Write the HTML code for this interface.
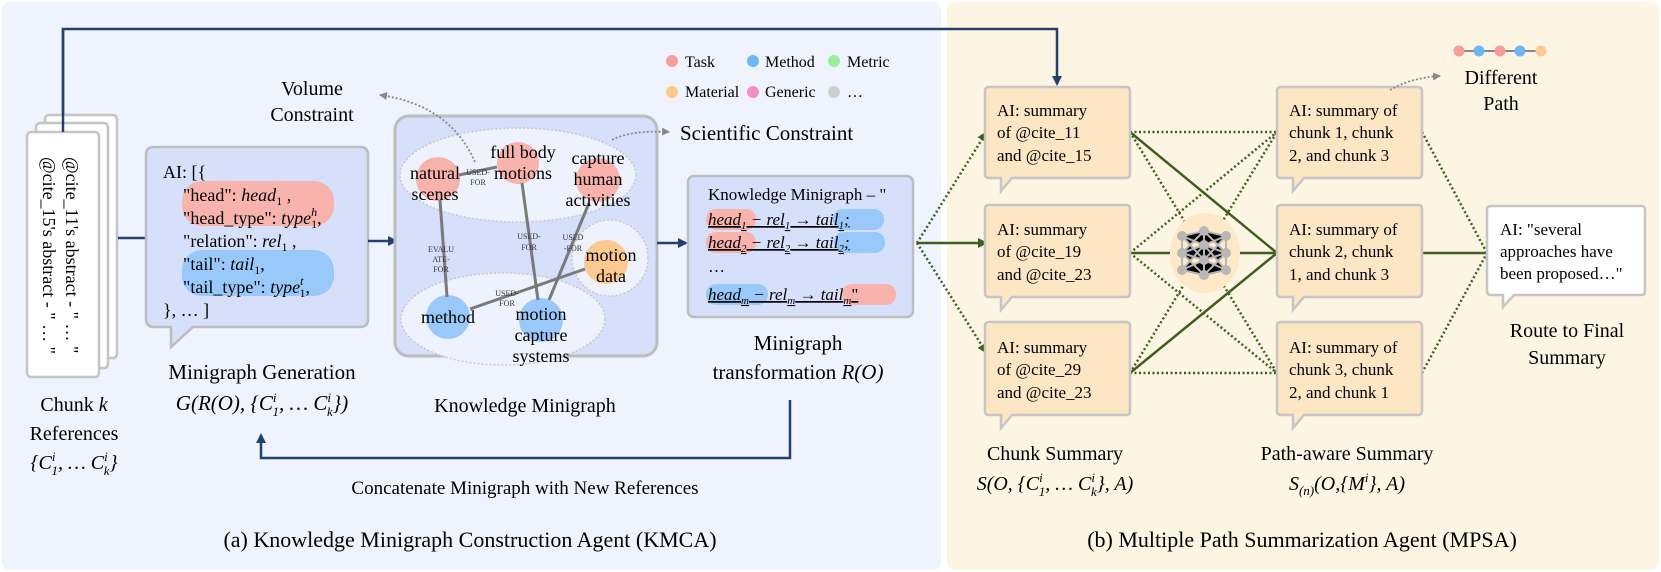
<!DOCTYPE html>
<html><head><meta charset="utf-8"><style>
html,body{margin:0;padding:0;background:#fff;font-family:"Liberation Serif","Times New Roman",serif;}
svg{display:block;}
svg text, svg tspan{font-family:"Liberation Serif","Times New Roman",serif;}
.m{font-style:italic;}
</style></head><body>
<svg width="1661" height="572" viewBox="0 0 1661 572" xmlns="http://www.w3.org/2000/svg" font-family="Liberation Serif, Times New Roman, serif">
<defs>
<marker id="ab" markerWidth="10" markerHeight="10" refX="8" refY="5" orient="auto" markerUnits="userSpaceOnUse"><path d="M0,0 L10,5 L0,10 z" fill="#23406e"/></marker>
<marker id="ag" markerWidth="10" markerHeight="10" refX="8" refY="5" orient="auto" markerUnits="userSpaceOnUse"><path d="M0,0 L10,5 L0,10 z" fill="#3d5e1f"/></marker>
<marker id="ay" markerWidth="8" markerHeight="8" refX="7" refY="4" orient="auto" markerUnits="userSpaceOnUse"><path d="M0,0 L8,4 L0,8 z" fill="#888"/></marker>
</defs>
<rect x="2" y="2" width="939" height="568" rx="8" fill="#eef3fd"/>
<rect x="947" y="2" width="712" height="568" rx="8" fill="#fdf5e4"/>

<polyline points="63,132 63,29 1057,29 1057,84" fill="none" stroke="#23406e" stroke-width="2.5" marker-end="url(#ab)"/>

<rect x="45" y="115" width="72" height="243" rx="4" fill="#fff" stroke="#c4c4c4" stroke-width="2.5"/>
<rect x="36" y="123" width="72" height="245" rx="4" fill="#fff" stroke="#c4c4c4" stroke-width="2.5"/>
<rect x="27" y="132" width="72" height="245" rx="4" fill="#fff" stroke="#c4c4c4" stroke-width="2.5"/>
<line x1="63" y1="29" x2="63" y2="132" stroke="#23406e" stroke-width="2.5"/>
<text transform="translate(66,157) rotate(90)" font-size="18">@cite_11's abstract - " … "</text>
<text transform="translate(43,157) rotate(90)" font-size="18">@cite_15's abstract - " … "</text>
<text x="74" y="411" font-size="20" text-anchor="middle">Chunk <tspan class="m">k</tspan></text>
<text x="74" y="440" font-size="20" text-anchor="middle">References</text>
<text x="74" y="469" font-size="20" text-anchor="middle" class="m">{C<tspan font-size="13" dy="-8">i</tspan><tspan font-size="13" dx="-4" dy="14">1</tspan><tspan dy="-6">, … C</tspan><tspan font-size="13" dy="-8">i</tspan><tspan font-size="13" dx="-4" dy="14">k</tspan><tspan dy="-6">}</tspan></text>

<line x1="118" y1="238" x2="146" y2="238" stroke="#23406e" stroke-width="2.5"/>

<path d="M154,147 H360 Q368,147 368,155 V319 Q368,327 360,327 H193 L171,347 L171,327 H154 Q146,327 146,319 V155 Q146,147 154,147 Z" fill="#d6e0fb" stroke="#bdbdbd" stroke-width="2.5"/>
<rect x="182" y="181" width="152" height="45" rx="20" fill="#f9b3ad"/>
<rect x="182" y="250" width="152" height="46" rx="20" fill="#99c9fb"/>
<g font-size="18">
<text x="163" y="178">AI: [{</text>
<text x="183" y="201">"head": <tspan class="m">head</tspan><tspan font-size="12" dy="4">1</tspan><tspan dy="-4"> ,</tspan></text>
<text x="183" y="224">"head_type": <tspan class="m">type</tspan><tspan font-size="12" class="m" dy="-8">h</tspan><tspan font-size="12" dx="-6" dy="12">1</tspan><tspan dy="-4">,</tspan></text>
<text x="183" y="247">"relation": <tspan class="m">rel</tspan><tspan font-size="12" dy="4">1</tspan><tspan dy="-4"> ,</tspan></text>
<text x="183" y="270">"tail": <tspan class="m">tail</tspan><tspan font-size="12" dy="4">1</tspan><tspan dy="-4">,</tspan></text>
<text x="183" y="293">"tail_type": <tspan class="m">type</tspan><tspan font-size="12" class="m" dy="-8">t</tspan><tspan font-size="12" dx="-4" dy="12">1</tspan><tspan dy="-4">,</tspan></text>
<text x="163" y="316">}, … ]</text>
</g>
<text x="262" y="379" font-size="21" text-anchor="middle">Minigraph Generation</text>
<text x="262" y="410" font-size="21" text-anchor="middle" class="m">G(R(O), {C<tspan font-size="13" dy="-8">i</tspan><tspan font-size="13" dx="-4" dy="14">1</tspan><tspan dy="-6">, … C</tspan><tspan font-size="13" dy="-8">i</tspan><tspan font-size="13" dx="-4" dy="14">k</tspan><tspan dy="-6">})</tspan></text>

<line x1="368" y1="241" x2="396" y2="241" stroke="#23406e" stroke-width="2.5" marker-end="url(#ab)"/>

<text x="312" y="95" font-size="20" text-anchor="middle">Volume</text>
<text x="312" y="121" font-size="20" text-anchor="middle">Constraint</text>

<g font-size="16">
<circle cx="672" cy="61" r="6" fill="#f99d9a"/><text x="685" y="67">Task</text>
<circle cx="753" cy="61" r="6" fill="#6fb4f7"/><text x="765" y="67">Method</text>
<circle cx="834" cy="61" r="6" fill="#98f09a"/><text x="847" y="67">Metric</text>
<circle cx="672" cy="92" r="6" fill="#fcc98e"/><text x="685" y="97">Material</text>
<circle cx="753" cy="92" r="6" fill="#f78fc7"/><text x="765" y="97">Generic</text>
<circle cx="834" cy="92" r="6" fill="#cfcfcf"/><text x="847" y="97">…</text>
</g>

<rect x="395" y="116" width="262" height="240" rx="14" fill="#d6e0fb" stroke="#bdbdbd" stroke-width="3"/>
<ellipse cx="518" cy="175" rx="118" ry="47" fill="#eef2fc" stroke="#c8c8c8" stroke-width="1.5" stroke-dasharray="2 2"/>
<ellipse cx="503" cy="319" rx="102" ry="46" fill="#eef2fc" stroke="#c8c8c8" stroke-width="1.5" stroke-dasharray="2 2"/>
<circle cx="610" cy="258" r="38" fill="#eef2fc" stroke="#c8c8c8" stroke-width="1.5" stroke-dasharray="2 2"/>
<circle cx="438" cy="179" r="22" fill="#f9b3ad"/>
<circle cx="518" cy="163" r="21" fill="#f9b3ad"/>
<circle cx="598" cy="180" r="22" fill="#f9b3ad"/>
<circle cx="606" cy="262" r="22" fill="#fcc98e"/>
<circle cx="448" cy="317" r="22" fill="#99c9fb"/>
<circle cx="541" cy="320" r="22" fill="#99c9fb"/>
<g stroke="#7a7a7a" stroke-width="3">
<line x1="459" y1="175" x2="497" y2="167"/>
<line x1="440" y1="200" x2="447" y2="297"/>
<line x1="522" y1="183" x2="538" y2="300"/>
<line x1="589" y1="203" x2="549" y2="300"/>
<line x1="585" y1="269" x2="470" y2="309"/>
</g>
<g font-size="8" text-anchor="middle" fill="#333">
<text x="478" y="175">USED-</text><text x="478" y="185">FOR</text>
<text x="441" y="252">EVALU</text><text x="441" y="262">ATE-</text><text x="441" y="272">FOR</text>
<text x="529" y="239">USED-</text><text x="529" y="250">FOR</text>
<text x="573" y="240">USED</text><text x="573" y="251">-FOR</text>
<text x="507" y="296">USED-</text><text x="507" y="306">FOR</text>
</g>
<g font-size="18" text-anchor="middle">
<text x="435" y="179">natural</text><text x="435" y="200">scenes</text>
<text x="523" y="158">full body</text><text x="523" y="179">motions</text>
<text x="598" y="164">capture</text><text x="598" y="185">human</text><text x="598" y="206">activities</text>
<text x="611" y="261">motion</text><text x="611" y="282">data</text>
<text x="448" y="323">method</text>
<text x="541" y="320">motion</text><text x="541" y="341">capture</text><text x="541" y="362">systems</text>
</g>
<path d="M475,162 Q450,105 380,95" fill="none" stroke="#888" stroke-width="1.8" stroke-dasharray="2 2" marker-end="url(#ay)"/>
<path d="M612,140 Q630,130 669,132" fill="none" stroke="#888" stroke-width="1.8" stroke-dasharray="2 2" marker-end="url(#ay)"/>
<text x="680" y="140" font-size="21">Scientific Constraint</text>
<text x="525" y="412" font-size="20" text-anchor="middle">Knowledge Minigraph</text>

<line x1="657" y1="243" x2="686" y2="243" stroke="#23406e" stroke-width="2.5" marker-end="url(#ab)"/>

<rect x="688" y="176" width="225" height="141" rx="6" fill="#d6e0fb" stroke="#bdbdbd" stroke-width="2.5"/>
<rect x="706" y="209" width="50" height="21" rx="10" fill="#f9b3ad"/>
<rect x="833" y="209" width="51" height="21" rx="10" fill="#99c9fb"/>
<rect x="706" y="232" width="50" height="21" rx="10" fill="#f9b3ad"/>
<rect x="834" y="232" width="51" height="21" rx="10" fill="#99c9fb"/>
<rect x="706" y="284" width="62" height="21" rx="10" fill="#99c9fb"/>
<rect x="842" y="284" width="54" height="21" rx="10" fill="#f9b3ad"/>
<g font-size="17">
<text x="708" y="200">Knowledge Minigraph – "</text>
<text x="708" y="225" class="m" text-decoration="underline">head<tspan font-size="11" dy="4">1</tspan><tspan dy="-4"> − rel</tspan><tspan font-size="11" dy="4">1</tspan><tspan dy="-4"> → tail</tspan><tspan font-size="11" dy="4">1</tspan><tspan dy="-4">;</tspan></text>
<text x="708" y="248" class="m" text-decoration="underline">head<tspan font-size="11" dy="4">2</tspan><tspan dy="-4"> − rel</tspan><tspan font-size="11" dy="4">2</tspan><tspan dy="-4"> → tail</tspan><tspan font-size="11" dy="4">2</tspan><tspan dy="-4">;</tspan></text>
<text x="708" y="272">…</text>
<text x="708" y="300" class="m" text-decoration="underline">head<tspan font-size="11" dy="4">m</tspan><tspan dy="-4"> − rel</tspan><tspan font-size="11" dy="4">m</tspan><tspan dy="-4"> → tail</tspan><tspan font-size="11" dy="4">m</tspan><tspan dy="-4" font-style="normal">"</tspan></text>
</g>
<text x="798" y="350" font-size="21" text-anchor="middle">Minigraph</text>
<text x="798" y="379" font-size="21" text-anchor="middle">transformation <tspan class="m">R(O)</tspan></text>

<polyline points="790,400 790,458 261,458 261,435" fill="none" stroke="#23406e" stroke-width="2.5" marker-end="url(#ab)"/>
<text x="525" y="494" font-size="19" text-anchor="middle">Concatenate Minigraph with New References</text>
<text x="470" y="547" font-size="22" text-anchor="middle">(a) Knowledge Minigraph Construction Agent (KMCA)</text>

<line x1="917" y1="243" x2="986" y2="133" stroke="#3d5e1f" stroke-width="2.5" stroke-dasharray="2 2.5" marker-end="url(#ag)"/>
<line x1="917" y1="243" x2="986" y2="243" stroke="#3d5e1f" stroke-width="2.5" marker-end="url(#ag)"/>
<line x1="917" y1="243" x2="986" y2="352" stroke="#3d5e1f" stroke-width="2.5" stroke-dasharray="2 2.5" marker-end="url(#ag)"/>

<g stroke="#3d5e1f" stroke-width="2.5" stroke-dasharray="2 2.5" fill="none">
<line x1="1130" y1="132" x2="1277" y2="132"/>
<line x1="1130" y1="132" x2="1277" y2="373"/>
<line x1="1130" y1="253" x2="1277" y2="132"/>
<line x1="1130" y1="253" x2="1277" y2="373"/>
<line x1="1130" y1="373" x2="1277" y2="132"/>
<line x1="1130" y1="373" x2="1277" y2="373"/>
<line x1="1422" y1="132" x2="1487" y2="253"/>
<line x1="1422" y1="373" x2="1487" y2="253"/>
</g>
<g stroke="#3d5e1f" stroke-width="2.5" fill="none">
<line x1="1130" y1="132" x2="1277" y2="253"/>
<line x1="1130" y1="373" x2="1277" y2="253"/>
<line x1="1130" y1="253" x2="1277" y2="253"/>
<line x1="1422" y1="253" x2="1487" y2="253"/>
</g>
<ellipse cx="1205" cy="253" rx="35" ry="40" fill="#fde8c8"/>
<g stroke="#b8b8b8" stroke-width="2">
<path d="M1182,236 L1204,231 L1226,236 M1182,236 L1204,245 L1226,236 M1182,236 L1204,260 L1226,236 M1182,253 L1204,231 L1226,253 M1182,253 L1204,245 L1226,253 M1182,253 L1204,260 L1226,253 M1182,253 L1204,275 L1226,253 M1182,270 L1204,260 L1226,270 M1182,270 L1204,275 L1226,270 M1182,270 L1204,245 L1226,270 M1182,236 L1182,270 M1226,236 L1226,270 M1204,231 L1204,275"/>
</g>
<g fill="#b8b8b8">
<circle cx="1182" cy="236" r="5"/><circle cx="1182" cy="253" r="5"/><circle cx="1182" cy="270" r="5"/>
<circle cx="1204" cy="231" r="5"/><circle cx="1204" cy="245" r="5"/><circle cx="1204" cy="260" r="5"/><circle cx="1204" cy="275" r="5"/>
<circle cx="1226" cy="236" r="5"/><circle cx="1226" cy="253" r="5"/><circle cx="1226" cy="270" r="5"/>
</g>

<g fill="#fde6c4" stroke="#c6c6c6" stroke-width="2.5">
<path d="M989,87 H1126 Q1130,87 1130,91 V174 Q1130,178 1126,178 H1012 L1001,191 L1001,178 H989 Q985,178 985,174 V91 Q985,87 989,87 Z"/>
<path d="M989,205 H1126 Q1130,205 1130,209 V293 Q1130,297 1126,297 H1012 L1001,310 L1001,297 H989 Q985,297 985,293 V209 Q985,205 989,205 Z"/>
<path d="M989,322 H1126 Q1130,322 1130,326 V411 Q1130,415 1126,415 H1012 L1001,428 L1001,415 H989 Q985,415 985,411 V326 Q985,322 989,322 Z"/>
<path d="M1281,87 H1418 Q1422,87 1422,91 V174 Q1422,178 1418,178 H1304 L1293,191 L1293,178 H1281 Q1277,178 1277,174 V91 Q1277,87 1281,87 Z"/>
<path d="M1281,205 H1418 Q1422,205 1422,209 V293 Q1422,297 1418,297 H1304 L1293,310 L1293,297 H1281 Q1277,297 1277,293 V209 Q1277,205 1281,205 Z"/>
<path d="M1281,322 H1418 Q1422,322 1422,326 V411 Q1422,415 1418,415 H1304 L1293,428 L1293,415 H1281 Q1277,415 1277,411 V326 Q1277,322 1281,322 Z"/>
</g>
<path d="M1491,206 H1641 Q1645,206 1645,210 V291 Q1645,295 1641,295 H1514 L1503,307 L1503,295 H1491 Q1487,295 1487,291 V210 Q1487,206 1491,206 Z" fill="#fff" stroke="#c6c6c6" stroke-width="2.5"/>
<g font-size="17">
<text x="997" y="116">AI: summary</text><text x="997" y="138">of @cite_11</text><text x="997" y="161">and @cite_15</text>
<text x="997" y="235">AI: summary</text><text x="997" y="257">of @cite_19</text><text x="997" y="280">and @cite_23</text>
<text x="997" y="353">AI: summary</text><text x="997" y="375">of @cite_29</text><text x="997" y="398">and @cite_23</text>
<text x="1289" y="116">AI: summary of</text><text x="1289" y="138">chunk 1, chunk</text><text x="1289" y="161">2, and chunk 3</text>
<text x="1289" y="235">AI: summary of</text><text x="1289" y="257">chunk 2, chunk</text><text x="1289" y="280">1, and chunk 3</text>
<text x="1289" y="353">AI: summary of</text><text x="1289" y="375">chunk 3, chunk</text><text x="1289" y="398">2, and chunk 1</text>
<text x="1500" y="235">AI: "several</text><text x="1500" y="257">approaches have</text><text x="1500" y="279">been proposed…"</text>
</g>
<text x="1567" y="337" font-size="20" text-anchor="middle">Route to Final</text>
<text x="1567" y="364" font-size="20" text-anchor="middle">Summary</text>

<line x1="1459" y1="51" x2="1541" y2="51" stroke="#888" stroke-width="2"/>
<circle cx="1459" cy="51" r="5.5" fill="#f99d9a"/>
<circle cx="1479" cy="51" r="5.5" fill="#6fb4f7"/>
<circle cx="1500" cy="51" r="5.5" fill="#f99d9a"/>
<circle cx="1520" cy="51" r="5.5" fill="#6fb4f7"/>
<circle cx="1541" cy="51" r="5.5" fill="#fcc98e"/>
<path d="M1390,90 Q1410,78 1440,76" fill="none" stroke="#888" stroke-width="1.8" stroke-dasharray="2 2" marker-end="url(#ay)"/>
<text x="1501" y="84" font-size="20" text-anchor="middle">Different</text>
<text x="1501" y="110" font-size="20" text-anchor="middle">Path</text>

<text x="1055" y="460" font-size="20" text-anchor="middle">Chunk Summary</text>
<text x="1055" y="490" font-size="20" text-anchor="middle" class="m">S(O, {C<tspan font-size="13" dy="-8">i</tspan><tspan font-size="13" dx="-4" dy="14">1</tspan><tspan dy="-6">, … C</tspan><tspan font-size="13" dy="-8">i</tspan><tspan font-size="13" dx="-4" dy="14">k</tspan><tspan dy="-6">}, A)</tspan></text>
<text x="1347" y="460" font-size="20" text-anchor="middle">Path-aware Summary</text>
<text x="1347" y="490" font-size="20" text-anchor="middle" class="m">S<tspan font-size="13" dy="5">(n)</tspan><tspan dy="-5">(O,{M</tspan><tspan font-size="13" dy="-8">i</tspan><tspan dy="8">}, A)</tspan></text>
<text x="1302" y="547" font-size="22" text-anchor="middle">(b) Multiple Path Summarization Agent (MPSA)</text>
</svg>
</body></html>
